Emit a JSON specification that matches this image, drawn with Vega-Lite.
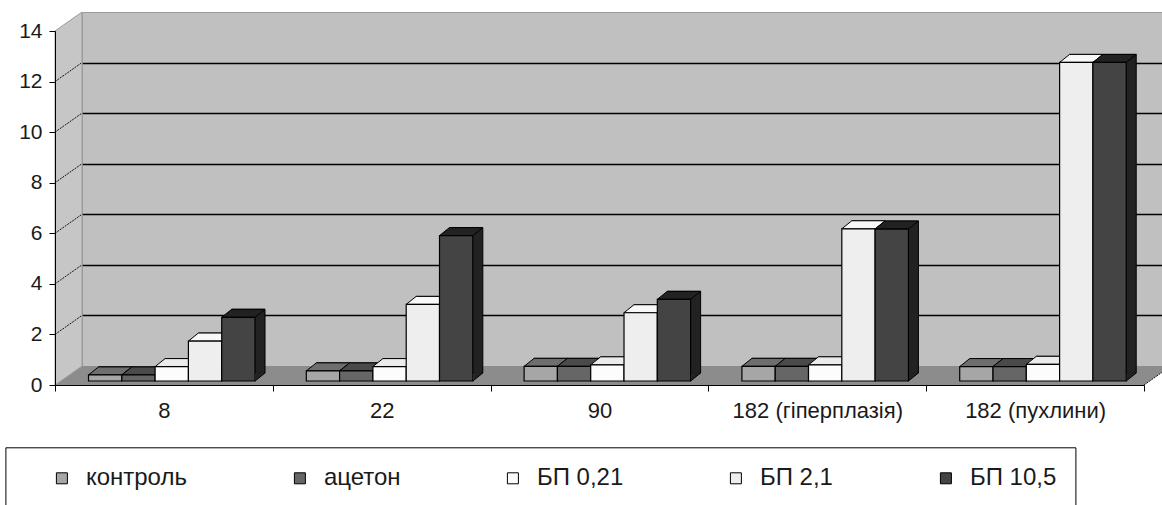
{
  "$schema": "https://vega.github.io/schema/vega-lite/v6.json",
  "width": 1089,
  "height": 354,
  "autosize": {"type": "none"},
  "padding": {"left": 82, "top": 12, "right": -9, "bottom": 139},
  "background": "white",
  "config": {
    "font": "Liberation Sans",
    "view": {"fill": "#c0c0c0", "stroke": "#9c9c9c", "strokeWidth": 1}
  },
  "data": {
    "values": [
      {"group": "8", "series": "контроль", "value": 0.24},
      {"group": "8", "series": "ацетон", "value": 0.24},
      {"group": "8", "series": "БП 0,21", "value": 0.57},
      {"group": "8", "series": "БП 2,1", "value": 1.58},
      {"group": "8", "series": "БП 10,5", "value": 2.52},
      {"group": "22", "series": "контроль", "value": 0.4},
      {"group": "22", "series": "ацетон", "value": 0.4},
      {"group": "22", "series": "БП 0,21", "value": 0.57},
      {"group": "22", "series": "БП 2,1", "value": 3.03},
      {"group": "22", "series": "БП 10,5", "value": 5.75},
      {"group": "90", "series": "контроль", "value": 0.58},
      {"group": "90", "series": "ацетон", "value": 0.58},
      {"group": "90", "series": "БП 0,21", "value": 0.64},
      {"group": "90", "series": "БП 2,1", "value": 2.7},
      {"group": "90", "series": "БП 10,5", "value": 3.23},
      {"group": "182 (гіперплазія)", "series": "контроль", "value": 0.58},
      {"group": "182 (гіперплазія)", "series": "ацетон", "value": 0.58},
      {"group": "182 (гіперплазія)", "series": "БП 0,21", "value": 0.64},
      {"group": "182 (гіперплазія)", "series": "БП 2,1", "value": 6.02},
      {"group": "182 (гіперплазія)", "series": "БП 10,5", "value": 6.01},
      {"group": "182 (пухлини)", "series": "контроль", "value": 0.57},
      {"group": "182 (пухлини)", "series": "ацетон", "value": 0.57},
      {"group": "182 (пухлини)", "series": "БП 0,21", "value": 0.66},
      {"group": "182 (пухлини)", "series": "БП 2,1", "value": 12.6},
      {"group": "182 (пухлини)", "series": "БП 10,5", "value": 12.6}
    ]
  },
  "resolve": {
    "scale": {"xOffset": "independent", "color": "independent"},
    "axis": {"x": "independent", "y": "independent"}
  },
  "layer": [
    {
      "transform": [{"aggregate": [{"op": "count", "as": "n"}]}],
      "mark": {"type": "point", "shape": "M-27,19L1062,19L1089,0L0,0Z", "size": 4, "filled": true, "fill": "#8c8c8c", "strokeWidth": 0, "opacity": 1},
      "encoding": {
        "x": {"datum": "8", "type": "nominal", "bandPosition": 0, "axis": null,
              "scale": {"type": "band", "domain": ["8", "22", "90", "182 (гіперплазія)", "182 (пухлини)"], "paddingInner": 0, "paddingOuter": 0}},
        "y": {"datum": 0, "type": "quantitative", "scale": {"domain": [0, 14]},
              "axis": {"orient": "left", "values": [2, 4, 6, 8, 10, 12], "grid": true, "gridColor": "#000000", "gridOpacity": 1, "gridWidth": 1.3,
                       "labels": false, "ticks": false, "domain": false, "title": null, "zindex": 0}}
      }
    },
    {
      "transform": [{"aggregate": [{"op": "count", "as": "n"}]}],
      "mark": {"type": "point", "shape": "M-27,19L0,0L0,-354L-27,-335Z", "size": 4, "filled": true, "fill": "#c6c6c6", "stroke": "#9c9c9c", "strokeWidth": 1, "opacity": 1},
      "encoding": {
        "x": {"datum": "8", "type": "nominal", "bandPosition": 0, "axis": null},
        "y": {"datum": 0, "type": "quantitative", "axis": null}
      }
    },
    {
      "transform": [{"aggregate": [{"op": "count", "as": "n"}]}],
      "mark": {"type": "point", "shape": "M-27,-31.57L0,-50.57M-27,-82.14L0,-101.14M-27,-132.72L0,-151.72M-27,-183.29L0,-202.29M-27,-233.86L0,-252.86M-27,-284.43L0,-303.43M1062,19L1089,0", "size": 4, "filled": false, "stroke": "#111111", "strokeWidth": 1, "strokeDash": [2, 1], "opacity": 1},
      "encoding": {
        "x": {"datum": "8", "type": "nominal", "bandPosition": 0, "axis": null},
        "y": {"datum": 0, "type": "quantitative", "axis": null}
      }
    },
    {
      "mark": {"type": "bar", "stroke": "#000000", "strokeWidth": 1, "yOffset": 7, "y2Offset": 7},
      "encoding": {
        "x": {"field": "group", "type": "nominal", "axis": null},
        "xOffset": {"field": "series", "type": "nominal",
                    "scale": {"type": "band", "domain": ["контроль", "ацетон", "БП 0,21", "БП 2,1", "БП 10,5"], "paddingInner": 0, "paddingOuter": 0.7703, "align": 0.322}},
        "y": {"field": "value", "type": "quantitative", "axis": null},
        "color": {"field": "series", "type": "nominal", "legend": null,
                  "scale": {"domain": ["контроль", "ацетон", "БП 0,21", "БП 2,1", "БП 10,5"], "range": ["#6e6e6e", "#4a4a4a", "#ebebeb", "#f8f8f8", "#222222"]}}
      }
    },
    {
      "mark": {"type": "point", "shape": "M17.25,-0.48L17.25,-8.7L26.05,-8.7L26.05,-7.52Z", "size": 4, "filled": true, "strokeWidth": 0, "opacity": 1, "yOffset": 15},
      "encoding": {
        "x": {"field": "group", "type": "nominal", "axis": null},
        "xOffset": {"field": "series", "type": "nominal",
                    "scale": {"type": "band", "domain": ["контроль", "ацетон", "БП 0,21", "БП 2,1", "БП 10,5"], "paddingInner": 0, "paddingOuter": 0.7703, "align": 0.127}},
        "y": {"datum": 0, "type": "quantitative", "axis": null},
        "color": {"field": "series", "type": "nominal", "legend": null,
                  "scale": {"domain": ["контроль", "ацетон", "БП 0,21", "БП 2,1", "БП 10,5"], "range": ["#6e6e6e", "#4a4a4a", "#ebebeb", "#f8f8f8", "#222222"]}}
      }
    },
    {
      "mark": {"type": "point", "shape": "M16.65,0L26.65,-8", "size": 4, "filled": false, "stroke": "#000000", "strokeWidth": 1, "opacity": 1, "yOffset": 15},
      "encoding": {
        "x": {"field": "group", "type": "nominal", "axis": null},
        "xOffset": {"field": "series", "type": "nominal",
                    "scale": {"type": "band", "domain": ["контроль", "ацетон", "БП 0,21", "БП 2,1", "БП 10,5"], "paddingInner": 0, "paddingOuter": 0.7703, "align": 0.127}},
        "y": {"datum": 0, "type": "quantitative", "axis": null}
      }
    },
    {
      "mark": {"type": "point", "shape": "M-16.65,0L16.65,0L26.65,-8L-6.65,-8Z", "size": 4, "filled": true, "stroke": "#000000", "strokeWidth": 1, "opacity": 1, "yOffset": 15},
      "encoding": {
        "x": {"field": "group", "type": "nominal", "axis": null},
        "xOffset": {"field": "series", "type": "nominal",
                    "scale": {"type": "band", "domain": ["контроль", "ацетон", "БП 0,21", "БП 2,1", "БП 10,5"], "paddingInner": 0, "paddingOuter": 0.7703, "align": 0.127}},
        "y": {"field": "value", "type": "quantitative", "axis": null},
        "color": {"field": "series", "type": "nominal", "legend": null,
                  "scale": {"domain": ["контроль", "ацетон", "БП 0,21", "БП 2,1", "БП 10,5"], "range": ["#6e6e6e", "#4a4a4a", "#ebebeb", "#f8f8f8", "#222222"]}}
      }
    },
    {
      "mark": {"type": "bar", "stroke": "#000000", "strokeWidth": 1.2, "yOffset": 15, "y2Offset": 15},
      "encoding": {
        "x": {"field": "group", "type": "nominal",
              "axis": {"orient": "bottom", "offset": 19, "position": -27, "tickBand": "extent", "tickSize": 6, "tickColor": "#000000",
                       "domainColor": "#000000", "labelAngle": 0, "labelFontSize": 22, "labelColor": "#1a1a1a", "labelPadding": 9,
                       "title": null, "zindex": 1}},
        "xOffset": {"field": "series", "type": "nominal",
                    "scale": {"type": "band", "domain": ["контроль", "ацетон", "БП 0,21", "БП 2,1", "БП 10,5"], "paddingInner": 0, "paddingOuter": 0.7703, "align": 0.127}},
        "y": {"field": "value", "type": "quantitative",
              "axis": {"orient": "left", "offset": 27, "position": 19, "values": [0, 2, 4, 6, 8, 10, 12, 14], "grid": false,
                       "tickSize": 6, "tickColor": "#000000", "domainColor": "#000000", "labelFontSize": 21, "labelColor": "#1a1a1a",
                       "labelPadding": 7, "title": null, "zindex": 1}},
        "color": {"field": "series", "type": "nominal",
                  "scale": {"domain": ["контроль", "ацетон", "БП 0,21", "БП 2,1", "БП 10,5"], "range": ["#a6a6a6", "#666666", "#fcfcfc", "#eeeeee", "#444444"]},
                  "legend": {"orient": "none", "legendX": -76.6, "legendY": 435.3, "direction": "horizontal", "columns": 5,
                             "gridAlign": "none", "columnPadding": 100, "padding": 19, "strokeColor": "#000000", "fillColor": "#ffffff",
                             "title": " ", "titleOrient": "left", "titleFontSize": 1, "titlePadding": 25.5,
                             "symbolType": "square", "symbolSize": 121, "symbolStrokeColor": "#000000", "symbolStrokeWidth": 1,
                             "labelFontSize": 24, "labelColor": "#1a1a1a", "labelOffset": 12}}
      }
    }
  ]
}
